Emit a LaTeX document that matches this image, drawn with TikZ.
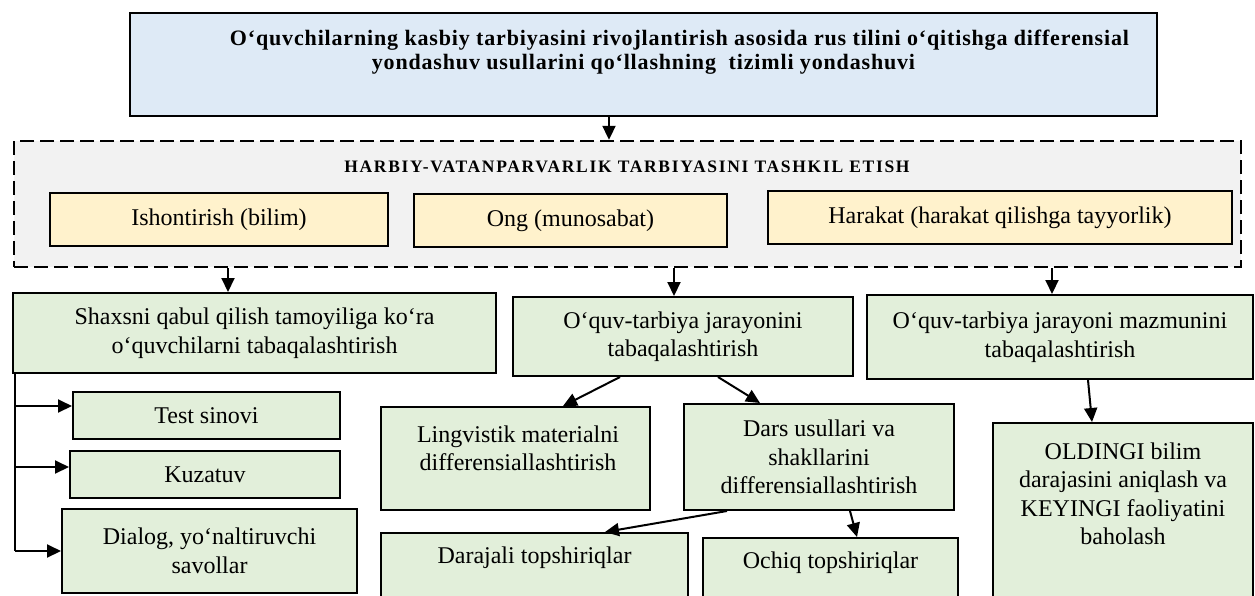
\documentclass[tikz,border=0pt]{standalone}
\usepackage{fontspec}
\setmainfont{Liberation Serif}
\usetikzlibrary{arrows.meta,calc}
\definecolor{cblue}{HTML}{DEEAF6}
\definecolor{cgray}{HTML}{F2F2F2}
\definecolor{cyel}{HTML}{FFF2CC}
\definecolor{cgreen}{HTML}{E2EFDA}
\begin{document}
\begin{tikzpicture}[x=1pt,y=-1pt,
  box/.style={draw, line width=2pt, inner sep=0pt, align=center,
    font=\fontsize{24}{28.5}\selectfont},
  gbox/.style={box, fill=cgreen},
  ybox/.style={box, fill=cyel},
  txt/.style={inner sep=0pt, align=center, font=\fontsize{24}{28.5}\selectfont},
  arr/.style={line width=2pt, -{Triangle[length=14pt,width=13pt]}},
  ln/.style={line width=2pt}]
\useasboundingbox (0,0) rectangle (1255,595);
\clip (0,0) rectangle (1255,595);

% top box
\node[box, fill=cblue, line width=2.6pt, minimum width=1027pt, minimum height=103pt] (top) at (643.5,64.5) {};
\node[inner sep=0pt, align=center, font=\bfseries\fontsize{22}{24}\selectfont\addfontfeature{LetterSpace=3.8}] (topT) at (643.5,52)
  {\hspace*{72pt}O‘quvchilarning kasbiy tarbiyasini rivojlantirish asosida rus tilini o‘qitishga differensial\\
   yondashuv usullarini qo‘llashning\ \ tizimli yondashuvi};

% dashed container
\node[draw, dash pattern=on 14pt off 6pt, line width=2.4pt, fill=cgray, minimum width=1227pt, minimum height=126pt, inner sep=0pt] (dash) at (627.5,204) {};
\node[inner sep=0pt, font=\bfseries\fontsize{17.5}{20}\selectfont\addfontfeature{LetterSpace=9.7}] (head) at (627,167) {HARBIY-VATANPARVARLIK TARBIYASINI TASHKIL ETISH};

\node[ybox, minimum width=338pt, minimum height=53pt] (y1) at (219,219.5) {Ishontirish (bilim)};
\node[ybox, minimum width=313pt, minimum height=53pt] (y2) at (570.5,220.5) {Ong (munosabat)};
\node[ybox, minimum width=464pt, minimum height=53pt] (y3) at (1000,217.5) {Harakat (harakat qilishga tayyorlik)};

% green row 1
\node[gbox, minimum width=483pt, minimum height=80pt] (gA) at (254.5,333) {Shaxsni qabul qilish tamoyiliga ko‘ra\\o‘quvchilarni tabaqalashtirish};
\node[gbox, minimum width=340pt, minimum height=79pt] (gB) at (683,336.5) {O‘quv-tarbiya jarayonini\\tabaqalashtirish};
\node[gbox, minimum width=386pt, minimum height=84pt] (gC) at (1060,337) {O‘quv-tarbiya jarayoni mazmunini\\tabaqalashtirish};

% left column
\node[gbox, minimum width=267pt, minimum height=47pt] (test) at (206.5,415.5) {Test sinovi};
\node[gbox, minimum width=270pt, minimum height=47pt] (kuz) at (205,474.5) {Kuzatuv};
\node[gbox, minimum width=295pt, minimum height=84pt] (dial) at (209.5,551) {Dialog, yo‘naltiruvchi\\savollar};

% middle
\node[gbox, minimum width=269pt, minimum height=103pt] (ling) at (515.5,458.5) {};
\node[txt] (lingT) at (518,448.5) {Lingvistik materialni\\differensiallashtirish};
\node[gbox, minimum width=270pt, minimum height=106pt] (dars) at (819,457) {Dars usullari va\\shakllarini\\differensiallashtirish};
\node[gbox, minimum width=307pt, minimum height=87pt] (dara) at (534.5,576.5) {};
\node[txt] (daraT) at (534.5,558) {Darajali topshiriqlar};
\node[gbox, minimum width=255pt, minimum height=82pt] (ochiq) at (830.5,579) {};
\node[txt] (ochiqT) at (830.5,563) {Ochiq topshiriqlar};

% right
\node[gbox, minimum width=260pt, minimum height=217pt] (old) at (1123,531.5) {};
\node[txt] (oldT) at (1123,494) {OLDINGI bilim\\darajasini aniqlash va\\KEYINGI faoliyatini\\baholash};

% connectors
\coordinate (aT) at ([xshift=-34.5pt]top.south);
\draw[arr] (aT) -- (aT |- dash.north);
\coordinate (aA) at ([xshift=-26.5pt]gA.north);
\coordinate (aB) at ([xshift=-9pt]gB.north);
\coordinate (aC) at ([xshift=-8pt]gC.north);
\draw[arr] (dash.south -| aA) -- (aA);
\draw[arr] (dash.south -| aB) -- (aB);
\draw[arr] (dash.south -| aC) -- (aC);

\draw[arr] ([xshift=-63pt]gB.south) -- ([xshift=47.5pt]ling.north);
\draw[arr] ([xshift=35pt]gB.south) -- ([xshift=-59pt]dars.north);
\draw[arr] ([xshift=-92pt]dars.south) -- ([xshift=70.5pt]dara.north);
\draw[arr] ([xshift=31pt]dars.south) -- ([xshift=26.5pt]ochiq.north);
\draw[arr] ([xshift=28pt]gC.south) -- ([xshift=-31pt]old.north);

\coordinate (ltop) at ([xshift=3pt]gA.south west);
\coordinate (lbot) at (ltop |- dial.west);
\coordinate (tw) at ([yshift=9.5pt]test.west);
\coordinate (kw) at ([yshift=7.5pt]kuz.west);
\draw[ln] (ltop) -- (lbot);
\draw[arr] (lbot) -- (dial.west);
\draw[arr] (ltop |- tw) -- (tw);
\draw[arr] (ltop |- kw) -- (kw);
\end{tikzpicture}
\end{document}
